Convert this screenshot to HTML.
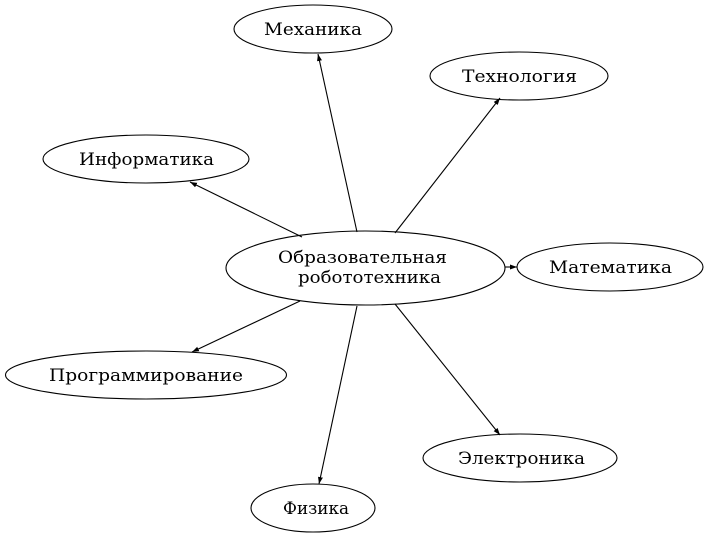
<!DOCTYPE html>
<html><head><meta charset="utf-8"><style>html,body{margin:0;padding:0;background:#fff}svg{display:block}</style></head><body>
<svg width="711" height="537" viewBox="0 0 711 537" xmlns="http://www.w3.org/2000/svg">
<defs><marker id="a" markerWidth="8" markerHeight="6" refX="7" refY="3" orient="auto" markerUnits="userSpaceOnUse"><path d="M0,0.5 L7,3 L0,5.5 z" fill="#000"/></marker></defs>
<g fill="none" stroke="#000" stroke-width="1.1">
<ellipse cx="365.5" cy="268" rx="139.5" ry="37"/>
<ellipse cx="313" cy="29" rx="79" ry="24"/>
<ellipse cx="519" cy="76" rx="89" ry="24"/>
<ellipse cx="146" cy="159" rx="103" ry="24"/>
<ellipse cx="610" cy="267" rx="93" ry="24"/>
<ellipse cx="146" cy="375" rx="140.5" ry="24"/>
<ellipse cx="520" cy="458" rx="97" ry="24"/>
<ellipse cx="313" cy="508" rx="62" ry="24"/>
<g marker-end="url(#a)">
<line x1="357" y1="232" x2="318" y2="54"/>
<line x1="395" y1="233" x2="500" y2="98"/>
<line x1="302" y1="237" x2="190" y2="182"/>
<line x1="505" y1="267" x2="517" y2="267"/>
<line x1="300" y1="301" x2="192" y2="352"/>
<line x1="395" y1="304" x2="500" y2="435"/>
<line x1="357" y1="306" x2="319" y2="484"/>
</g></g>
<g font-family="'DejaVu Serif', 'Liberation Serif', serif" font-size="17" fill="#000">
<text x="278" y="263" textLength="169" lengthAdjust="spacingAndGlyphs">Образовательная</text>
<text x="298" y="283" textLength="143" lengthAdjust="spacingAndGlyphs">робототехника</text>
<text x="264" y="35" textLength="98" lengthAdjust="spacingAndGlyphs">Механика</text>
<text x="462" y="82" textLength="115" lengthAdjust="spacingAndGlyphs">Технология</text>
<text x="79" y="165" textLength="135" lengthAdjust="spacingAndGlyphs">Информатика</text>
<text x="549" y="273" textLength="123" lengthAdjust="spacingAndGlyphs">Математика</text>
<text x="49" y="381" textLength="194" lengthAdjust="spacingAndGlyphs">Программирование</text>
<text x="458" y="464" textLength="127" lengthAdjust="spacingAndGlyphs">Электроника</text>
<text x="283" y="514" textLength="66" lengthAdjust="spacingAndGlyphs">Физика</text>
</g>
</svg>
</body></html>
